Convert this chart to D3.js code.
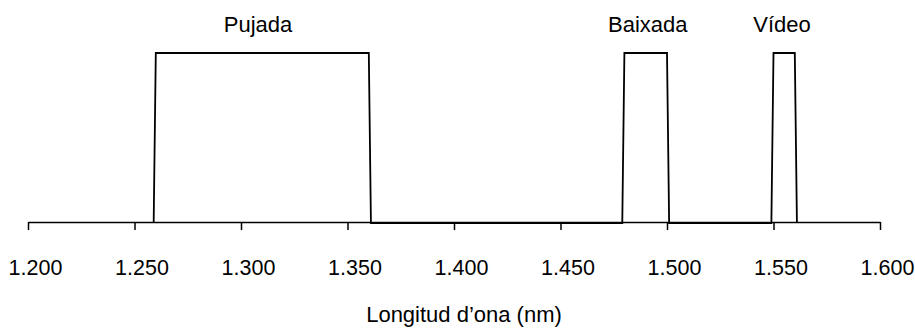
<!DOCTYPE html>
<html>
<head>
    <meta charset='utf-8'>
    <title>Bandes de longitud d'ona</title>
    <style>
    body {
      margin: 0;
      background: #fff;
    }
    text {
      font-family: 'Liberation Sans', Arial, sans-serif;
      fill: #000;
    }
    </style>
    <script src='https://d3js.org/d3.v7.min.js'></script>
</head>
<body>
<div id="container"></div>
<script>
// ******* Data *******
const wavelengths = [1259, 1260, 1360, 1361, 1479, 1480, 1500, 1501, 1549, 1550, 1560, 1561];
const levels      = [0,    1,    1,    0,    0,    1,    1,    0,    0,    1,    1,    0];
const bandNames   = ["Pujada", "Baixada", "Vídeo"];
const bandCenters = [1308, 1491, 1554];
const tickValues  = [1200, 1250, 1300, 1350, 1400, 1450, 1500, 1550, 1600];
const axisTitle   = "Longitud d’ona (nm)";

// ******* Constants *******
const width = 915,
      height = 330;

// ******* Scales *******
const x = d3.scaleLinear().domain([1200, 1600]).range([28, 880]);
const y = d3.scaleLinear().domain([0, 1]).range([223, 53]);

const ca = d3.formatLocale({decimal: ",", thousands: ".", grouping: [3], currency: ["", " €"]});
const fmt = ca.format(",d");

// ******* Create SVG *******
const svg = d3.select("#container").append("svg")
    .attr("width", width)
    .attr("height", height);

// ******* Axis *******
const axis = svg.append("g")
    .attr("transform", "translate(0, 222)")
    .call(d3.axisBottom(x).tickValues(tickValues).tickSize(8).tickSizeOuter(0).tickFormat(fmt));

axis.select(".domain").attr("stroke", "#000").attr("stroke-width", 1.5);
axis.selectAll(".tick line").attr("stroke", "#000").attr("stroke-width", 1.5);
axis.selectAll(".tick text")
    .attr("y", 53)
    .attr("dy", 0)
    .attr("dx", 7)
    .style("font-size", "21.5px")
    .style("font-family", "'Liberation Sans', Arial, sans-serif");

// ******* Line *******
const points = wavelengths.map((w, i) => [w, levels[i]]);
const line = d3.line().x(d => x(d[0])).y(d => y(d[1]));

svg.append("path")
    .datum(points)
    .attr("d", line)
    .attr("fill", "none")
    .attr("stroke", "#000")
    .attr("stroke-width", 1.8);

// ******* Band labels *******
svg.selectAll(".band-label")
    .data(bandNames)
    .enter()
    .append("text")
    .attr("class", "band-label")
    .attr("x", (d, i) => x(bandCenters[i]))
    .attr("y", 32)
    .attr("text-anchor", "middle")
    .style("font-size", "22px")
    .text(d => d);

// ******* Axis title *******
svg.append("text")
    .attr("x", 464)
    .attr("y", 322)
    .attr("text-anchor", "middle")
    .style("font-size", "22px")
    .text(axisTitle);
</script>
</body>
</html>
